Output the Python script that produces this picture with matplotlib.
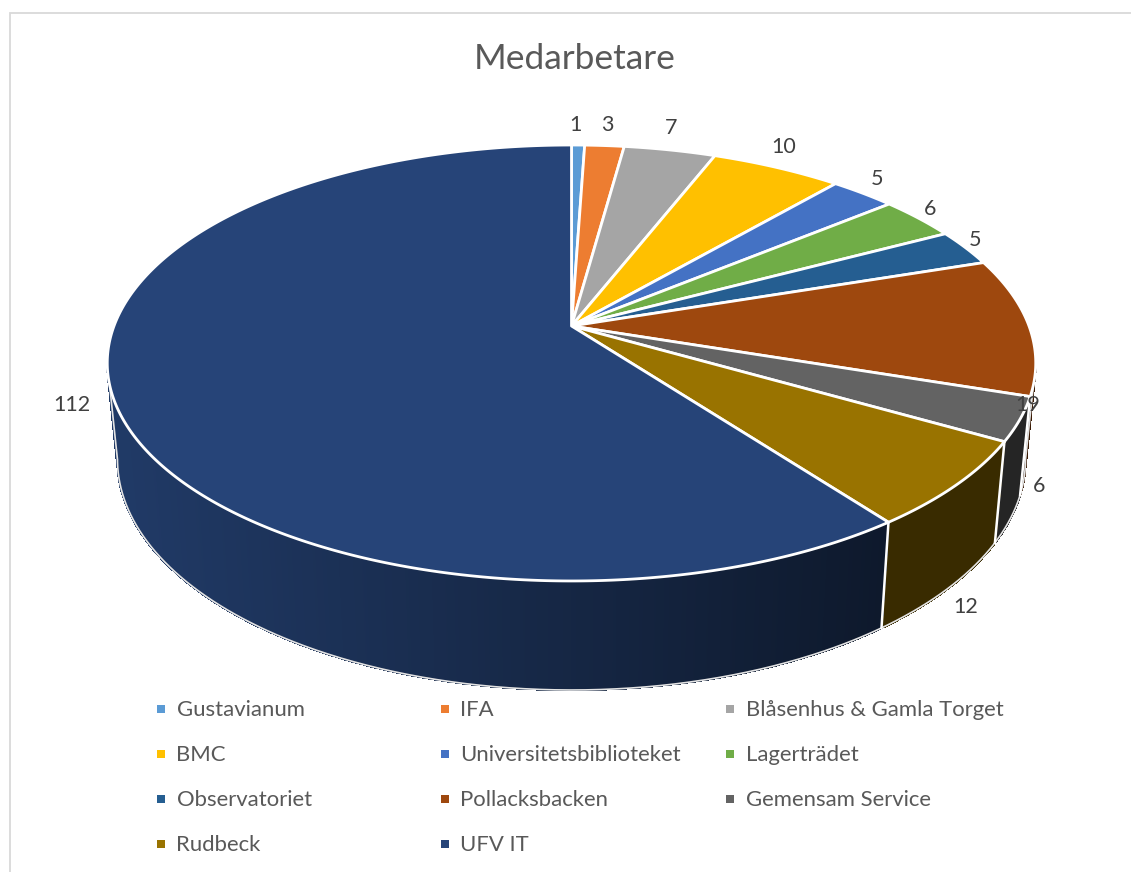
import numpy as np
import matplotlib
matplotlib.use("Agg")
import matplotlib.pyplot as plt
from matplotlib.collections import PolyCollection
from matplotlib.colors import to_rgb
from matplotlib.patches import Polygon, Rectangle

plt.rcParams['font.family'] = ['Lato', 'DejaVu Sans']

categories = ["Gustavianum", "IFA", "Blåsenhus & Gamla Torget", "BMC",
              "Universitetsbiblioteket", "Lagerträdet", "Observatoriet",
              "Pollacksbacken", "Gemensam Service", "Rudbeck", "UFV IT"]
values = [1, 3, 7, 10, 5, 6, 5, 19, 6, 12, 112]
colors = ["#5B9BD5", "#ED7D31", "#A5A5A5", "#FFC000", "#4472C4", "#70AD47",
          "#255E91", "#9E480E", "#636363", "#997300", "#264478"]

# layout (pixels of the 1131x872 canvas)
label_xy = [(575, 125), (607, 125), (671, 128), (784, 147), (877, 179), (930, 209),
            (975, 240), (1028, 405), (1039, 486), (966, 607), (72, 405)]
legend_cols = [161, 445, 730]
legend_rows = [709, 754, 799, 844]

CX, CY = 571.5, 326.0      # apex of the pie
W, A, B = 457.5, 211.7, 0.1697   # perspective of the top disc
SX, SY, DY = 0.978, 1.057, 94.5  # bottom rim relative to top rim


def top_pt(t):
    u, v = np.sin(t), np.cos(t)
    d = 1 + B * v
    return CX + W * u / d, CY - A * v / d


def bot_pt(t):
    x, y = top_pt(t)
    return CX + SX * (x - CX), CY + DY + SY * (y - CY)


def shade(x):
    return float(np.interp(x, [120, 880], [0.85, 0.37]))


fig = plt.figure(figsize=(11.31, 8.72), dpi=100, facecolor="white")
ax = fig.add_axes([0, 0, 1, 1])
ax.set_xlim(0, 1131)
ax.set_ylim(872, 0)
ax.axis("off")

# chart frame
ax.plot([9.5, 9.5, 1131], [872, 13.5, 13.5], color="#D9D9D9", lw=1.3, solid_joinstyle="miter")

edges = np.concatenate([[0], np.cumsum(values)]) / np.sum(values) * 2 * np.pi

# the side wall is visible between the two silhouette angles, where cos(t) = -B
t_right = np.arccos(-B)
t_left = 2 * np.pi - t_right

quads, qcols = [], []
for i, c in enumerate(colors):
    lo, hi = max(edges[i], t_right), min(edges[i + 1], t_left)
    if hi <= lo:
        continue
    n = max(int(values[i] * 6), 6)
    ts = np.linspace(lo, hi, n + 1)
    for a, b in zip(ts[:-1], ts[1:]):
        xa, ya = top_pt(a)
        xb, yb = top_pt(b)
        xc, yc = bot_pt(b)
        xd, yd = bot_pt(a)
        quads.append([(xa, ya), (xb, yb), (xc, yc), (xd, yd)])
        qcols.append(tuple(np.array(to_rgb(c)) * shade((xa + xb) / 2)))
ax.add_collection(PolyCollection(quads, facecolors=qcols, edgecolors=qcols,
                                 linewidths=1.0, antialiaseds=False, zorder=2))

# thin pale outline of the lower rim and the two silhouette lines
tt = np.linspace(t_right, t_left, 500)
bx, by = bot_pt(tt)
tx0, ty0 = top_pt(t_right)
tx1, ty1 = top_pt(t_left)
ax.plot(np.r_[tx0, bx, tx1], np.r_[ty0, by, ty1], color="#E4E4E4", lw=1.2, zorder=3)

# white seams on the visible side
for i in [8, 9, 10]:
    t = edges[i]
    x0, y0 = top_pt(t)
    x1, y1 = bot_pt(t)
    ax.plot([x0, x1], [y0, y1], color="white", lw=1.8, zorder=4)

# top faces
for i, c in enumerate(colors):
    n = max(int(values[i] * 6), 6)
    ts = np.linspace(edges[i], edges[i + 1], n + 1)
    x, y = top_pt(ts)
    xy = np.column_stack([np.r_[CX, x], np.r_[CY, y]])
    ax.add_patch(Polygon(xy, closed=True, facecolor=c, edgecolor="white",
                         linewidth=2.0, joinstyle="round", zorder=5))

# value labels
for (lx, ly), val in zip(label_xy, values):
    ax.text(lx, ly, str(val), ha="center", va="center", color="#404040",
            fontsize=15.5, zorder=6)

# title
ax.text(575, 59, "Medarbetare", ha="center", va="center", color="#595959", fontsize=25.4, zorder=6)

# legend
for i, (name, c) in enumerate(zip(categories, colors)):
    col, row = i % 3, i // 3
    lx, ly = legend_cols[col], legend_rows[row]
    ax.add_patch(Rectangle((lx - 4, ly - 4), 8, 8, facecolor=c, edgecolor="none", zorder=6))
    ax.text(lx + 15.5, ly + 1, name, ha="left", va="center", color="#595959", fontsize=15.9, zorder=6)

fig.savefig("out.png", dpi=100, facecolor="white")
